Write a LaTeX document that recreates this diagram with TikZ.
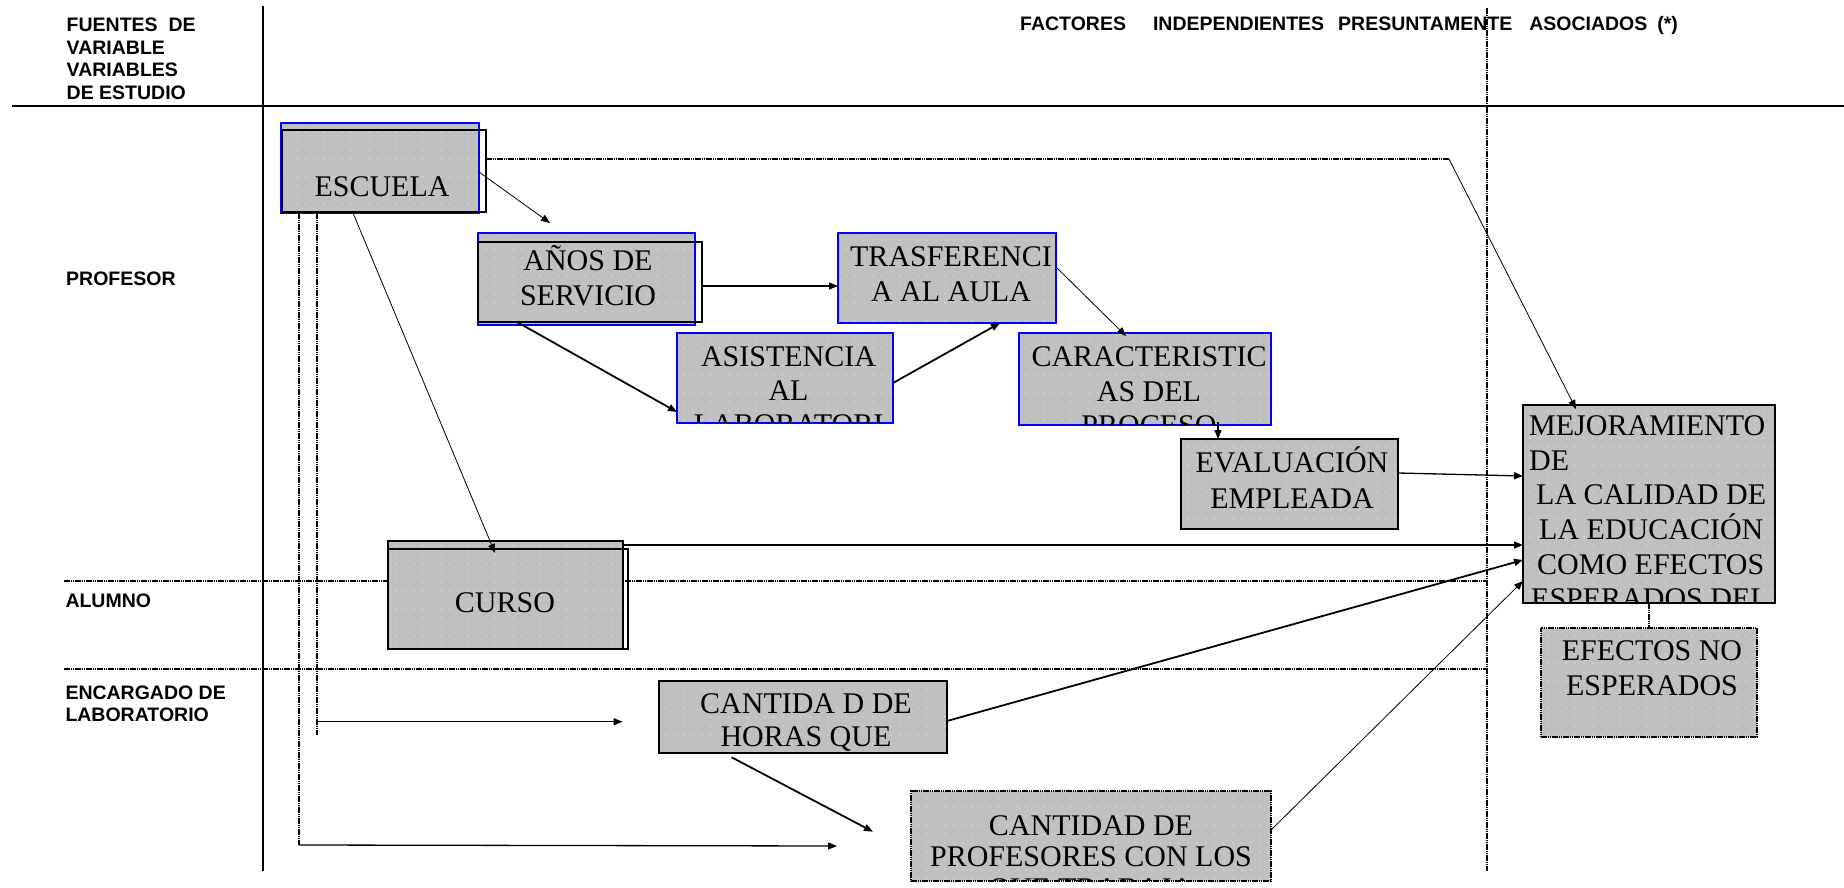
\documentclass[tikz,border=0pt]{standalone}
\usepackage{fontspec}
\setmainfont{Liberation Serif}
\newfontfamily\labfont{Liberation Sans}
\usetikzlibrary{arrows.meta,fit,patterns.meta}

\definecolor{boxgray}{RGB}{192,192,192}
\definecolor{dotgray}{RGB}{218,218,218}
\definecolor{bblue}{RGB}{0,0,255}

\tikzdeclarepattern{
  name=wdots, type=uncolored,
  bottom left={(-1pt,-1pt)}, top right={(1pt,1pt)}, tile size={(9pt,9pt)},
  code={\pgfpathcircle{\pgfpointorigin}{0.9pt}\pgfusepath{fill}}
}

\newcommand{\stk}[2]{\vtop{\baselineskip=#1pt\lineskiplimit=-60pt\lineskip=0pt\halign{\hfil##\hfil\cr#2\crcr}}}
\newcommand{\stkl}[2]{\vtop{\baselineskip=#1pt\lineskiplimit=-60pt\lineskip=0pt\halign{##\hfil\cr#2\crcr}}}

\tikzset{
  shadebox/.style={inner sep=0pt, outer sep=0pt, preaction={fill=boxgray}, pattern={wdots}, pattern color=dotgray},
  bluebox/.style={shadebox, draw=bblue, line width=2pt},
  blackbox/.style={shadebox, draw=black, line width=2pt},
  dotbox/.style={shadebox, draw=black, line width=2pt, dash pattern=on 1.6pt off 0.6pt},
  outlinebox/.style={draw=black, line width=2pt, inner sep=0pt, outer sep=0pt},
  btxt/.style={inner sep=0pt, font=\fontsize{30}{34.5}\selectfont},
  lab/.style={inner sep=0pt, font=\labfont\bfseries\fontsize{19.5}{22.5}\selectfont},
  tipA/.tip={Triangle[length=9pt,width=7pt]},
  conn/.style={line width=1.3pt, -tipA},
  thinconn/.style={line width=0.8pt, -tipA},
  thickconn/.style={line width=1.8pt, -tipA},
  dotline/.style={line width=1.8pt, dash pattern=on 1.6pt off 0.6pt},
}

\begin{document}
\begin{tikzpicture}[x=1pt,y=-1pt]
\fill[white] (0,0) rectangle (1844,888);
\useasboundingbox (0,0) rectangle (1844,888);

% ---- grid lines
\coordinate (vTop) at (263,6);
\coordinate (vBot) at (263,871);
\draw[line width=2pt] (vTop) -- (vBot);
\coordinate (hL) at (12,106);
\coordinate (hR) at (1844,106);
\draw[line width=1.5pt] (hL) -- (hR);
\coordinate (dvTop) at (1487,8);
\coordinate (dvBot) at (1487,871);
\draw[dotline] (dvTop) -- (dvBot);
\coordinate (h1L) at (64,581);
\coordinate (h1R) at (1487,581);
\draw[dotline] (h1L) -- (h1R);
\coordinate (h2L) at (64,669);
\coordinate (h2R) at (1487,669);
\draw[dotline] (h2L) -- (h2R);

% ---- labels
\node[lab, anchor=base west] (fuentes) at (66.5,31.7) {\stkl{22.5}{FUENTES\ \ DE\cr VARIABLE\cr VARIABLES\cr DE ESTUDIO}};
\node[lab, anchor=base west] (factores) at (1020,31) {FACTORES\hspace{27pt}INDEPENDIENTES\hspace{14pt}PRESUNTAMENTE\hspace{17pt}ASOCIADOS\hspace{10pt}(*)};
\node[lab, anchor=base west] (profesor) at (66,285) {PROFESOR};
\node[lab, anchor=base west] (alumno) at (65.3,607) {ALUMNO};
\node[lab, anchor=base west] (encargado) at (65.3,699) {\stkl{22}{ENCARGADO DE\cr LABORATORIO}};

% ---- free ends of the lines from ESCUELA
\coordinate (v1end) at (299,845);
\coordinate (v2end) at (316.7,735);
\coordinate (v2mid) at (316.7,721.7);

% ---- boxes
\node[bluebox, fit={(281,123) (479,213)}] (escB) {};
\node[outlinebox, fit={(282,130) (486,212)}] (escK) {};
\node[bluebox, fit={(478,233) (695,325)}] (anosB) {};
\node[outlinebox, fit={(478,242) (702,322)}] (anosK) {};
\node[bluebox, fit={(677,333) (893,423)}] (asist) {};
\node[bluebox, fit={(838,233) (1056,323)}] (tras) {};
\node[bluebox, fit={(1019,333) (1271,425)}] (carac) {};
\node[blackbox, fit={(1181,439) (1398,529)}] (eval) {};
\node[blackbox, fit={(1523,405) (1775,603)}] (mej) {};
\node[dotbox, fit={(1541,628) (1757,737)}] (efec) {};
\node[blackbox, fit={(388,541) (623,649)}] (cursoA) {};
\node[outlinebox, fit={(388,549) (628,649)}] (cursoK) {};
\node[blackbox, fit={(659,681) (947,753)}] (horas) {};
\node[dotbox, fit={(911,791) (1271,881)}] (profs) {};

% ---- box texts
\node[btxt, anchor=base] (escT) at (382,196) {ESCUELA};
\node[btxt, anchor=base] (anosT) at (588,270.7) {\stk{35}{AÑOS DE\cr SERVICIO}};
\begin{scope}
  \clip ([yshift=1pt]asist.south west) rectangle (asist.north east);
  \node[btxt, anchor=base] (asistT) at (788.5,366.7) {\stk{34}{ASISTENCIA\cr AL\cr LABORATORI}};
\end{scope}
\node[btxt, anchor=base] (trasT) at (951,266.7) {\stk{34.5}{TRASFERENCI\cr A AL AULA}};
\begin{scope}
  \clip ([yshift=1pt]carac.south west) rectangle (carac.north east);
  \node[btxt, anchor=base] (caracT) at (1149,366.7) {\stk{34.3}{CARACTERISTIC\cr AS DEL\cr PROCESO}};
\end{scope}
\node[btxt, anchor=base] (evalT) at (1292,472.7) {\stk{35.3}{EVALUACIÓN\cr EMPLEADA}};
\begin{scope}
  \clip ([yshift=1pt]mej.south west) rectangle (mej.north east);
  \node[btxt, anchor=base west] (mejT) at (1529,435.7) {\stkl{34.6}{MEJORAMIENTO\cr DE\cr \hspace{7pt}LA CALIDAD DE\cr \hspace{10pt}LA EDUCACIÓN\cr \hspace{8pt}COMO EFECTOS\cr \hspace{2pt}ESPERADOS DEL}};
\end{scope}
\node[btxt, anchor=base] (efecT) at (1652,660) {\stk{35}{EFECTOS NO\cr ESPERADOS}};
\node[btxt, anchor=base] (cursoT) at (505,612) {CURSO};
\node[btxt, anchor=base] (horasT) at (806,713.3) {\stk{33.4}{CANTIDA D DE\cr HORAS QUE}};
\begin{scope}
  \clip ([yshift=1pt]profs.south west) rectangle (profs.north east);
  \node[btxt, anchor=base] (profsT) at (1091,835) {\stk{31.5}{CANTIDAD DE\cr PROFESORES CON LOS\cr QUE TRABAJA}};
\end{scope}

% ---- connectors
% ESCUELA dotted guide to the right, then diagonal to MEJORAMIENTO
\coordinate (escCorner) at (1449,159);
\draw[dotline] ([yshift=12pt]escK.east) -- (escCorner);
\draw[thinconn] (escCorner) -- ([xshift=53pt,yshift=-4pt]mej.north west);
% ESCUELA -> AÑOS
\draw[thinconn] ([yshift=-4pt]escB.east) -- ([xshift=72pt,yshift=10pt]anosB.north west);
% ESCUELA -> CURSO
\draw[thinconn] ([xshift=72pt]escB.south west) -- ([xshift=107pt,yshift=-4pt]cursoK.north west);
% dotted verticals from ESCUELA and their arrows
\draw[dotline] ([xshift=18pt]escB.south west) -- (v1end);
\draw[dotline] ([xshift=35.7pt]escB.south west) -- (v2end);
\draw[conn] (v2mid) -- ([xshift=-36.5pt,yshift=-4.7pt]horas.west);
\draw[conn] (v1end) -- ([xshift=-74pt,yshift=-10pt]profs.west);
% AÑOS -> TRASFERENCIA
\draw[conn] ([yshift=-4pt]anosK.east) -- ([yshift=-4pt]anosK.east -| tras.west);
% AÑOS -> ASISTENCIA
\draw[thickconn] ([xshift=39pt]anosK.south west) -- ([yshift=11pt]asist.south west);
% ASISTENCIA -> TRASFERENCIA
\draw[thickconn] ([yshift=-5pt]asist.east) -- ([xshift=162pt]tras.south west);
% TRASFERENCIA -> CARACTERISTICAS
\draw[thinconn] ([yshift=-34pt]tras.north east) -- ([xshift=107pt,yshift=-3pt]carac.north west);
% CARACTERISTICAS -> EVALUACION
\draw[conn] ([xshift=199pt,yshift=3pt]carac.south west) -- ([xshift=37pt]eval.north west);
% EVALUACION -> MEJORAMIENTO
\draw[conn] ([yshift=11pt]eval.east) -- ([yshift=28pt]mej.west);
% CURSO -> MEJORAMIENTO
\draw[conn] ([yshift=-4pt]cursoA.north east) -- ([yshift=-4pt]cursoA.north east -| mej.west);
% HORAS -> MEJORAMIENTO
\draw[thickconn] ([yshift=-4pt]horas.east) -- ([yshift=43pt]mej.south west);
% HORAS -> PROFESORES
\draw[thickconn] ([xshift=72.6pt,yshift=-4.3pt]horas.south west) -- ([xshift=-38pt,yshift=4.3pt]profs.west);
% PROFESORES -> MEJORAMIENTO
\draw[thinconn] ([yshift=6pt]profs.east) -- ([yshift=22pt]mej.south west);
% MEJORAMIENTO - EFECTOS NO ESPERADOS
\draw[dotline] (mej.south) -- (efec.north);
\end{tikzpicture}
\end{document}
